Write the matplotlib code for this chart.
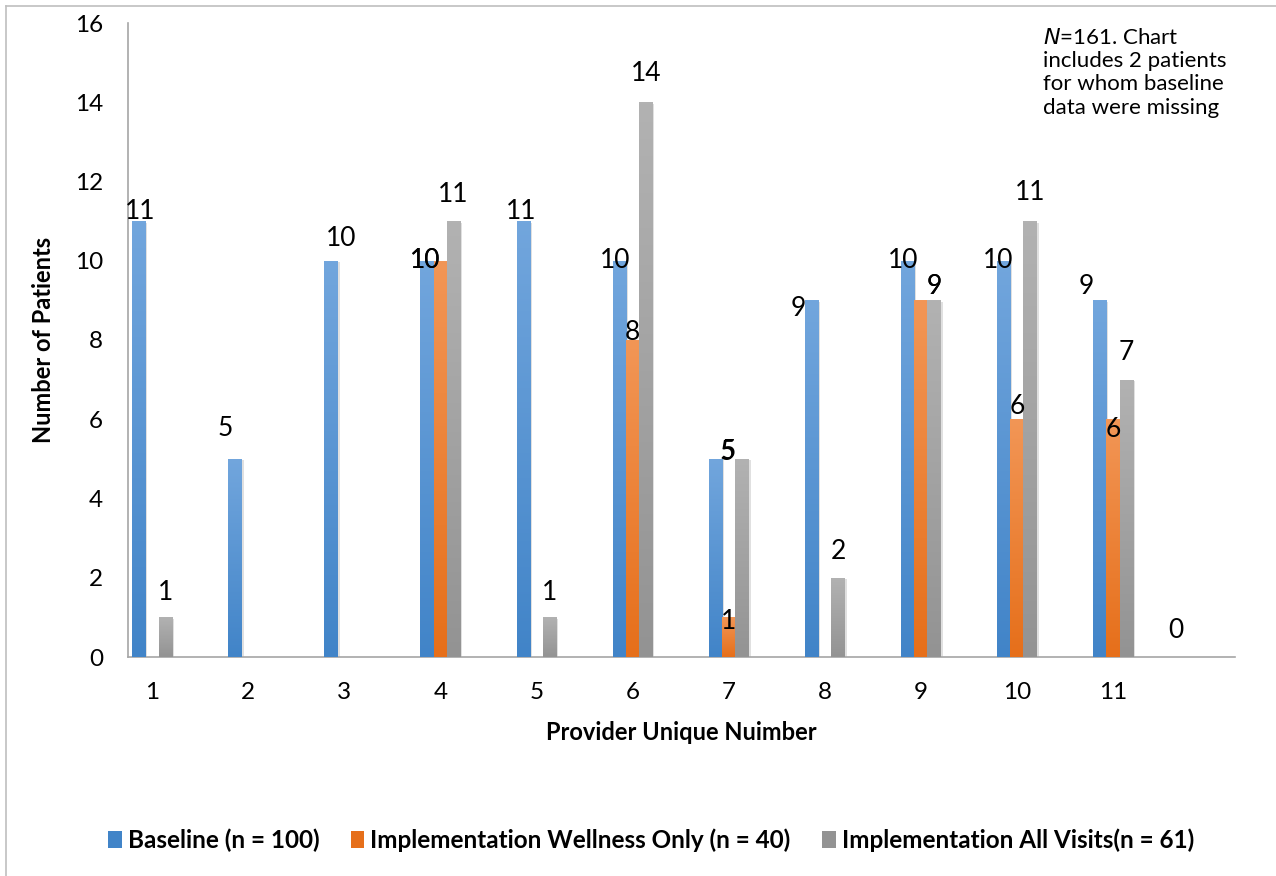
import matplotlib.pyplot as plt
import matplotlib.patheffects as pe
from matplotlib.patches import Patch
from matplotlib.lines import Line2D
from matplotlib.colors import to_rgb
import numpy as np

plt.rcParams['font.family'] = ['Lato', 'DejaVu Sans']

# data
providers = [1, 2, 3, 4, 5, 6, 7, 8, 9, 10, 11]
baseline = [11, 5, 10, 10, 11, 10, 5, 9, 10, 10, 9]
wellness = [0, 0, 0, 10, 0, 8, 1, 0, 9, 6, 6]
all_visits = [1, 0, 0, 11, 1, 14, 5, 2, 9, 11, 7]
series_names = ['Baseline (n = 100)', 'Implementation Wellness Only (n = 40)',
                'Implementation All Visits(n = 61)']
note = '$\\it{N}$=161. Chart\nincludes 2 patients\nfor whom baseline\ndata were missing'

# label nudges in pixels (dx, dy), None = no label shown
blue_off = [(1, 10), (-10, 30), (10, 22), (-2, 0), (-2, 10), (-4, 0),
            (12, 6), (-13, -8), (-4, 0), (-5, 0), (-13, 14)]
orange_off = [None, None, None, (-15, 0), None, (0, 8),
              (0, -4), None, (13, 14), (0, 13), (0, -10)]
gray_off = [(0, 25), None, None, (0, 27), (0, 25), (0, 29),
            (-14, 7), (0, 26), (0, 14), (0, 29), (0, 27)]

# (top colour, bottom colour)
grads = [('#72a6dd', '#4184c8'), ('#f29656', '#e66f1a'), ('#b2b2b2', '#939393')]

fig = plt.figure(figsize=(12.76, 8.76), dpi=100)
ax = fig.add_axes([128/1276, 1-657/876, (1235-128)/1276, (657-23)/876])

x = np.array(providers, dtype=float)
w = 0.138
data = [baseline, wellness, all_visits]
offs = [blue_off, orange_off, gray_off]
t = np.linspace(0, 1, 256)[:, None]

for k, (vals, (ctop, cbot), lab_off) in enumerate(zip(data, grads, offs)):
    xs = x + (k - 1) * w
    bars = ax.bar(xs, vals, width=w, color=cbot, zorder=2, linewidth=0,
                  path_effects=[pe.SimplePatchShadow(offset=(1.5, -1), shadow_rgbFace='k', alpha=0.12),
                                pe.Normal()])
    img = (np.array(to_rgb(ctop)) * (1 - t) + np.array(to_rgb(cbot)) * t)[:, None, :]
    for b in bars:
        h = b.get_height()
        if h <= 0:
            continue
        im = ax.imshow(img, extent=[b.get_x(), b.get_x() + b.get_width(), 0, h],
                       aspect='auto', zorder=3, interpolation='nearest')
        im.set_clip_path(b)
    for xi, v, o in zip(xs, vals, lab_off):
        if o is None:
            continue
        ax.annotate(str(v), (xi, v), xytext=o, textcoords='offset pixels',
                    ha='center', va='center', fontsize=19, zorder=5)

# stray zero label of the empty slot after provider 11
ax.text(11.65, 0.68, '0', ha='center', va='center', fontsize=19)

ax.set_xlim(0.75, 12.27)
ax.set_ylim(0, 16)
ax.set_xticks(providers)
ax.set_xticklabels([str(p) for p in providers])
ax.set_yticks(range(0, 17, 2))
ax.tick_params(axis='both', length=0, labelsize=17.5)
ax.tick_params(axis='y', pad=18)
ax.tick_params(axis='x', pad=18)
for s in ['top', 'right']:
    ax.spines[s].set_visible(False)
for s in ['left', 'bottom']:
    ax.spines[s].set_color('#a6a6a6')
    ax.spines[s].set_linewidth(1.2)

ax.set_xlabel('Provider Unique Nuimber', fontsize=17, fontweight='bold', labelpad=13)
ax.set_ylabel('Number of Patients', fontsize=17, fontweight='bold', labelpad=14)

fig.text(1043/1276, 1-28/876, note, fontsize=16, va='top', ha='left', linespacing=1.2)

handles = [Patch(facecolor=g[1], edgecolor='none') for g in grads]
fig.legend(handles, series_names, loc='center', bbox_to_anchor=(651/1276, 1-840/876),
           ncol=3, frameon=False, prop={'weight': 'bold', 'size': 17.5},
           handlelength=0.55, handleheight=0.7, handletextpad=0.25, columnspacing=1.3)

# outer frame (top and left edges only)
fig.add_artist(Line2D([6/1276, 1], [1-6/876, 1-6/876], color='#bfbfbf', lw=1.2))
fig.add_artist(Line2D([6/1276, 6/1276], [0, 1-6/876], color='#bfbfbf', lw=1.2))

fig.savefig('out.png', dpi=100)
